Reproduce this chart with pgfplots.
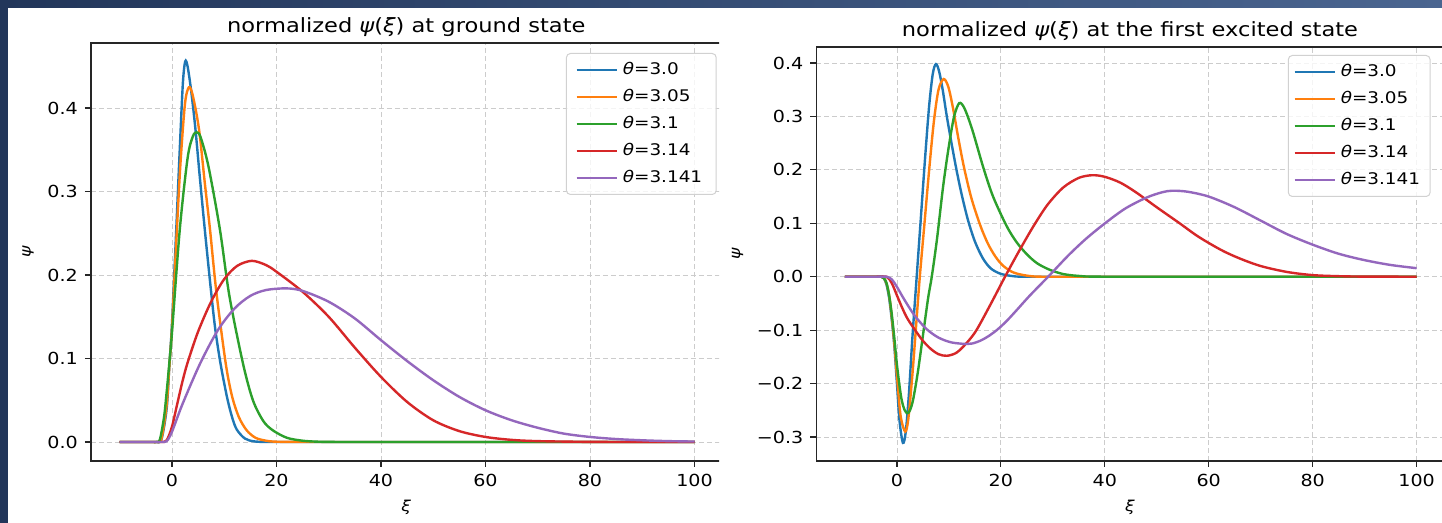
\documentclass[border=0pt]{standalone}
\usepackage{fontspec}
\setmainfont{DejaVu Sans}[FakeStretch=1.15]
\usepackage{pgfplots}
\pgfplotsset{compat=1.18}

\definecolor{mplBlue}{HTML}{1F77B4}
\definecolor{mplOrange}{HTML}{FF7F0E}
\definecolor{mplGreen}{HTML}{2CA02C}
\definecolor{mplRed}{HTML}{D62728}
\definecolor{mplPurple}{HTML}{9467BD}
\definecolor{navyA}{HTML}{22365A}
\definecolor{navyB}{HTML}{4A6590}

\pgfplotsset{
  psiax/.style={
    scale only axis, anchor=south west,
    xmin=-15.5, xmax=105.2,
    xtick={0,20,40,60,80,100}, xticklabels={0,20,40,60,80,100},
    tick align=outside, tick pos=left, major tick length=3pt,
    grid=major,
    major grid style={black!20, line width=0.4pt, dash pattern=on 2.5pt off 1.5pt},
    axis line style={black!85, line width=0.7pt},
    every tick/.style={black!85, line width=0.6pt},
    tick label style={font=\fontsize{8.3}{10}\selectfont, text=black},
    title style={font=\fontsize{9.8}{12}\selectfont, text=black, yshift=-6.5pt},
    label style={font=\fontsize{7.5}{9}\selectfont, text=black},
    xlabel={\itshape ξ}, ylabel={\itshape ψ},
    legend cell align=left,
    legend image code/.code={\draw[##1, line width=1.2pt] (0pt,0pt) -- (20pt,0pt);},
    legend style={at={(1,1)}, anchor=north east, draw=black!18, line width=0.5pt,
      rounded corners=2pt, fill=white, fill opacity=0.8, text opacity=1,
      inner ysep=1.5pt, font=\fontsize{8}{10}\selectfont,
      nodes={inner xsep=2.5pt, inner ysep=2.5pt, text height=6.5pt, text depth=2pt},
      row sep=0pt},
    every axis plot/.append style={line width=1.2pt, smooth, tension=0.5},
  }
}

\begin{document}
\begin{tikzpicture}[x=0.5pt, y=0.5pt]
\useasboundingbox (0,0) rectangle (1442,523);
\fill[white] (0,0) rectangle (1442,523);

% ground state
\begin{scope}
\clip (0,0) rectangle (719,523);
\begin{axis}[psiax,
  at={(45.45pt,31pt)}, width=315.4pt, height=209pt,
  ymin=-0.0228, ymax=0.478,
  ytick={0,0.1,0.2,0.3,0.4}, yticklabels={0.0,0.1,0.2,0.3,0.4},
  title={normalized {\itshape ψ}({\itshape ξ}) at ground state},
  legend style={xshift=-2.5pt, yshift=-5pt, inner xsep=4.5pt},
]
\addplot[mplBlue] coordinates {
  (-10,0) (-4,0) (-3,0) (-2,0.003) (-1,0.04) (-0.5,0.09) (0,0.14) (0.8,0.25)
  (1.5,0.35) (2.1,0.43) (2.55,0.456) (3,0.45) (3.7,0.42) (4.5,0.375) (5.3,0.32)
  (6.3,0.254) (7.5,0.18) (8.3,0.135) (9.3,0.094) (10.5,0.055) (11.5,0.03)
  (12.4,0.015) (14,0.004) (16,0.0005) (20,0) (40,0) (70,0) (100,0)};
\addlegendentry{{\itshape θ}=3.0}
\addplot[mplOrange] coordinates {
  (-10,0) (-4,0) (-3,0) (-2,0.004) (-1,0.045) (-0.5,0.09) (0,0.135) (0.8,0.235)
  (1.6,0.33) (2.5,0.405) (3.26,0.425) (4,0.415) (5.2,0.374) (6.3,0.31) (7.3,0.254)
  (8.5,0.18) (10.3,0.094) (11.5,0.055) (12.8,0.03) (14.3,0.014) (16,0.005)
  (18,0.0015) (20,0.0003) (25,0) (40,0) (70,0) (100,0)};
\addlegendentry{{\itshape θ}=3.05}
\addplot[mplGreen] coordinates {
  (-10,0) (-4,0) (-3,0) (-2.3,0.003) (-1.5,0.03) (-1,0.06) (-0.5,0.094) (0,0.13)
  (1.5,0.254) (3,0.34) (4,0.366) (4.75,0.371) (5.5,0.365) (7,0.33) (9.2,0.254)
  (11,0.175) (13.6,0.094) (15.5,0.05) (17.5,0.025) (19.3,0.014) (22,0.005)
  (25,0.0015) (28,0.0003) (32,0) (50,0) (75,0) (100,0)};
\addlegendentry{{\itshape θ}=3.1}
\addplot[mplRed] coordinates {
  (-10,0) (-4,0) (-2,0) (-1,0.002) (0,0.018) (1,0.045) (2,0.072) (3,0.095)
  (5,0.132) (7.5,0.168) (10,0.195) (12.5,0.211) (15.3,0.217) (18,0.212)
  (20,0.204) (25,0.18) (30,0.15) (35,0.113) (40,0.078) (45,0.048) (50,0.026)
  (55,0.013) (60,0.006) (65,0.0025) (70,0.001) (80,0.0001) (90,0) (100,0)};
\addlegendentry{{\itshape θ}=3.14}
\addplot[mplPurple] coordinates {
  (-10,0) (-4,0) (-2,0) (-1,0.001) (0,0.012) (2,0.045) (5.4,0.094) (8.8,0.134)
  (12,0.16) (15,0.175) (18,0.182) (21.9,0.184) (25,0.181) (30,0.168) (35,0.148)
  (40,0.122) (45,0.097) (50,0.074) (55,0.054) (60,0.038) (65,0.026) (70,0.017)
  (75,0.01) (80,0.006) (85,0.0035) (90,0.002) (95,0.001) (100,0.0005)};
\addlegendentry{{\itshape θ}=3.141}
\end{axis}
\end{scope}

% first excited state
\begin{axis}[psiax,
  at={(408.2pt,31pt)}, width=313.6pt, height=207pt,
  ymin=-0.3449, ymax=0.43,
  ytick={-0.3,-0.2,-0.1,0,0.1,0.2,0.3,0.4},
  yticklabels={−0.3,−0.2,−0.1,0.0,0.1,0.2,0.3,0.4},
  title={normalized {\itshape ψ}({\itshape ξ}) at the first excited state},
  legend style={xshift=-6.5pt, yshift=-4pt, inner xsep=2.5pt},
]
\addplot[mplBlue] coordinates {
  (-10,0) (-4,0) (-3,0) (-2.5,-0.003) (-2,-0.015) (-1.5,-0.04) (-1,-0.08)
  (-0.5,-0.13) (0,-0.2) (0.5,-0.27) (1.15,-0.311) (1.7,-0.29) (2.3,-0.22)
  (3,-0.11) (3.8,0) (4.6,0.11) (5.4,0.22) (6.2,0.32) (6.9,0.38) (7.5,0.398)
  (8.1,0.385) (8.8,0.35) (9.6,0.3) (10.5,0.25) (11.5,0.198) (12.5,0.152)
  (13.7,0.105) (15,0.066) (16.5,0.035) (18,0.016) (19.8,0.006) (22,0.0015)
  (25,0) (40,0) (70,0) (100,0)};
\addlegendentry{{\itshape θ}=3.0}
\addplot[mplOrange] coordinates {
  (-10,0) (-4,0) (-3,0) (-2.5,-0.003) (-2,-0.013) (-1.5,-0.035) (-1,-0.075)
  (-0.5,-0.125) (0,-0.185) (0.7,-0.26) (1.6,-0.29) (2.2,-0.265) (3,-0.18)
  (3.7,-0.09) (4.4,0) (5.3,0.1) (6.2,0.2) (7.1,0.29) (8,0.35) (9,0.37)
  (9.9,0.355) (10.8,0.315) (11.8,0.26) (12.9,0.205) (14.3,0.148) (16,0.097)
  (17.5,0.062) (19,0.037) (20.5,0.02) (22.4,0.008) (25,0.002) (28,0)
  (40,0) (70,0) (100,0)};
\addlegendentry{{\itshape θ}=3.05}
\addplot[mplGreen] coordinates {
  (-10,0) (-4,0) (-3,0) (-2.5,-0.003) (-2,-0.012) (-1.5,-0.035) (-1,-0.07)
  (-0.5,-0.115) (0,-0.165) (0.8,-0.225) (1.5,-0.25) (2.2,-0.255) (3,-0.235)
  (4,-0.18) (5,-0.11) (6,-0.04) (6.7,0) (7.7,0.07) (8.9,0.17) (10,0.245)
  (11,0.3) (12,0.325) (13,0.315) (14.5,0.275) (16.6,0.205) (18.5,0.15)
  (21.1,0.095) (23,0.065) (25,0.042) (27,0.025) (29.4,0.013) (32,0.005)
  (35,0.0015) (40,0) (70,0) (100,0)};
\addlegendentry{{\itshape θ}=3.1}
\addplot[mplRed] coordinates {
  (-10,0) (-4,0) (-2,0) (-1,-0.012) (0,-0.035) (1,-0.058) (2,-0.078)
  (3.5,-0.1) (5,-0.12) (6.5,-0.135) (8,-0.145) (9.6,-0.148) (11.5,-0.142)
  (13.5,-0.123) (15.3,-0.1) (18,-0.052) (20.8,0) (23.5,0.048) (26.3,0.095)
  (29,0.135) (32,0.167) (35,0.185) (37.6,0.19) (40,0.187) (43,0.176)
  (46,0.158) (50,0.13) (54.4,0.1) (58,0.075) (62.4,0.05) (66,0.034)
  (70,0.02) (75,0.009) (80,0.003) (85,0.001) (90,0.0002) (100,0)};
\addlegendentry{{\itshape θ}=3.14}
\addplot[mplPurple] coordinates {
  (-10,0) (-4,0) (-2,0) (-1,-0.005) (0,-0.019) (1,-0.036) (2,-0.052)
  (3.5,-0.074) (5.7,-0.098) (8,-0.114) (10.5,-0.123) (13.4,-0.126) (14.5,-0.125)
  (16,-0.12) (17.5,-0.112) (19.2,-0.1) (21,-0.084) (23,-0.063) (25.5,-0.036)
  (29.1,0) (33,0.04) (36.5,0.072) (40.3,0.102) (44,0.128) (48,0.148) (51,0.158)
  (53,0.161) (56,0.159) (60,0.15) (65,0.13) (70.4,0.103) (75,0.08) (80,0.06)
  (85,0.043) (90,0.031) (95,0.022) (100,0.016)};
\addlegendentry{{\itshape θ}=3.141}
\end{axis}

% dark frame of the screenshot
\fill[navyA] (0,0) rectangle (8,523);
\shade[left color=navyA, right color=navyB] (0,515) rectangle (1442,523);
\end{tikzpicture}
\end{document}
